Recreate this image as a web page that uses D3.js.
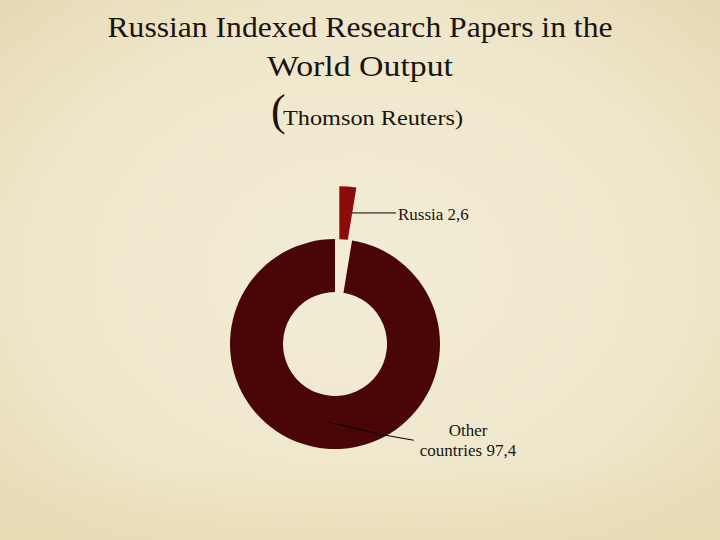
<!DOCTYPE html>
<html>
<head>
<meta charset="utf-8">
<script src="https://cdn.jsdelivr.net/npm/d3@7"></script>
<style>
html,body{margin:0;padding:0;background:#efe7cc;}
svg{display:block;}
text{font-family:"Liberation Serif","DejaVu Serif","Times New Roman",serif;}
</style>
</head>
<body>
<script>
const categories = ["Russia", "Other countries"];
const values = [2.6, 97.4];
const labelLines = [["Russia 2,6"], ["Other", "countries 97,4"]];
const titleLines = ["Russian Indexed Research Papers in the", "World Output"];
const subtitle = "Thomson Reuters)";
const colors = ["#8c0c0c", "#4a0606"];

const W = 720, H = 540;
const svg = d3.select("body").append("svg").attr("width", W).attr("height", H);

const defs = svg.append("defs");
const rg = defs.append("radialGradient").attr("id", "bg").attr("cx", "50%").attr("cy", "50%").attr("r", "75%");
rg.append("stop").attr("offset", "0%").attr("stop-color", "#f3edd6");
rg.append("stop").attr("offset", "60%").attr("stop-color", "#efe7cb");
rg.append("stop").attr("offset", "100%").attr("stop-color", "#e4d7b0");
svg.append("rect").attr("width", W).attr("height", H).attr("fill", "url(#bg)");
const lg = defs.append("linearGradient").attr("id", "bot").attr("x1", 0).attr("x2", 0).attr("y1", 0).attr("y2", 1);
lg.append("stop").attr("offset", "0%").attr("stop-color", "#e9dcb4").attr("stop-opacity", 0);
lg.append("stop").attr("offset", "100%").attr("stop-color", "#e9dcb4").attr("stop-opacity", 0.7);
svg.append("rect").attr("y", 460).attr("width", W).attr("height", 80).attr("fill", "url(#bot)");

// Title
const titleY = [37, 76];
const titleW = [505, 186];
titleLines.forEach((t, i) => {
  svg.append("text").attr("x", 360).attr("y", titleY[i]).attr("text-anchor", "middle")
    .attr("font-size", 29).attr("fill", "#1a1410")
    .attr("textLength", titleW[i]).attr("lengthAdjust", "spacingAndGlyphs")
    .text(t);
});
const sub = svg.append("text").attr("y", 125).attr("fill", "#1a1410");
sub.append("tspan").attr("x", 271).attr("font-size", 44).text("(");
sub.append("tspan").attr("x", 283).attr("font-size", 20).attr("textLength", 180).attr("lengthAdjust", "spacingAndGlyphs").text(subtitle);

// Donut
const cx = 335, cy = 344, R = 105, r = 52, explode = 53;
const pie = d3.pie().sort(null).value(d => d)(values);
const arc = d3.arc().innerRadius(r).outerRadius(R);
const g = svg.append("g").attr("transform", `translate(${cx},${cy})`);
const lineUnder = g.append("g");
const sliceG = g.append("g");
const lineOver = g.append("g");

const offset = (d, i) => {
  if (i !== 0) return [0, 0];
  const a = (d.startAngle + d.endAngle) / 2;
  return [explode * Math.sin(a), -explode * Math.cos(a)];
};

sliceG.selectAll("path.slice").data(pie).join("path").attr("class", "slice")
  .attr("d", arc).attr("fill", (d, i) => colors[i])
  .attr("transform", (d, i) => `translate(${offset(d, i)})`);

// Leader lines and labels (label positions in page coordinates)
const labelPos = [[398, 220, "start"], [468, 436, "middle"]];
pie.forEach((d, i) => {
  const [ox, oy] = offset(d, i);
  const c = arc.centroid(d);
  const sx = c[0] + ox, sy = c[1] + oy;
  let pts;
  if (i === 0) {
    pts = [[sx, sy], [labelPos[0][0] - cx - 2, sy]];
  } else {
    pts = [[sx, sy], [sx + 57, sy + 13], [sx + 85, sy + 18]];
  }
  (i === 0 ? lineUnder : lineOver).append("path").attr("d", d3.line()(pts))
    .attr("fill", "none").attr("stroke", "#000").attr("stroke-width", 1);
  const t = svg.append("text").attr("font-size", 17).attr("fill", "#1a1410").attr("text-anchor", labelPos[i][2]);
  labelLines[i].forEach((ln, k) => {
    t.append("tspan").attr("x", labelPos[i][0]).attr("y", labelPos[i][1] + k * 19.5).text(ln);
  });
});
</script>
</body>
</html>
